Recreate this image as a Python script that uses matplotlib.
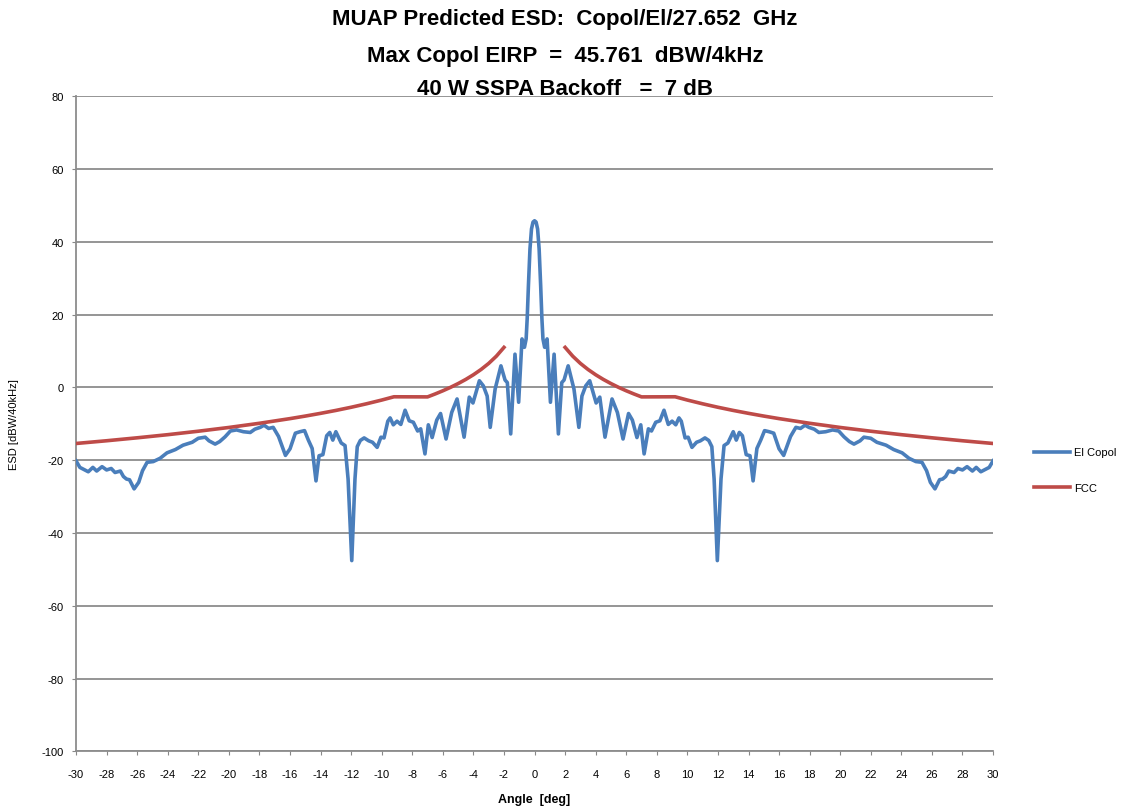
import numpy as np
import matplotlib
matplotlib.use('Agg')
import matplotlib.pyplot as plt

plt.rcParams['font.family'] = ['Liberation Sans Narrow', 'Liberation Sans', 'DejaVu Sans']
plt.rcParams['axes.unicode_minus'] = False

# Data
angle = [-30.0, -29.75, -29.2, -28.9, -28.65, -28.3, -28.0, -27.7, -27.45, -27.1,
         -26.9, -26.7, -26.5, -26.2, -25.9, -25.65, -25.35, -24.95, -24.5, -24.05,
         -23.5, -23.0, -22.4, -22.0, -21.55, -21.3, -20.9, -20.6, -20.25, -19.9,
         -19.5, -19.05, -18.6, -18.3, -17.95, -17.7, -17.4, -17.1, -16.75, -16.3,
         -16.0, -15.65, -15.35, -15.05, -14.8, -14.55, -14.3, -14.1, -13.85, -13.6,
         -13.4, -13.2, -13.0, -12.65, -12.4, -12.2, -11.96, -11.75, -11.6, -11.4,
         -11.15, -10.85, -10.6, -10.3, -10.05, -9.85, -9.6, -9.45, -9.24, -9.0,
         -8.75, -8.47, -8.2, -7.93, -7.65, -7.45, -7.17, -6.95, -6.7, -6.4,
         -6.15, -5.79, -5.42, -5.07, -4.61, -4.27, -4.03, -3.61, -3.35, -3.1,
         -2.9, -2.58, -2.2, -1.93, -1.78, -1.56, -1.28, -1.04, -0.82, -0.66,
         -0.55, -0.48, -0.4, -0.3, -0.2, -0.1, 0.0,
         0.1, 0.2, 0.3, 0.4, 0.48, 0.55, 0.66, 0.82, 1.04, 1.28,
         1.56, 1.78, 1.93, 2.2, 2.58, 2.9, 3.1, 3.35, 3.61, 4.03,
         4.27, 4.61, 5.07, 5.42, 5.79, 6.15, 6.4, 6.7, 6.95, 7.17,
         7.45, 7.65, 7.93, 8.2, 8.47, 8.75, 9.0, 9.24, 9.45, 9.6,
         9.85, 10.05, 10.3, 10.6, 10.85, 11.15, 11.4, 11.6, 11.75, 11.96,
         12.2, 12.4, 12.65, 13.0, 13.2, 13.4, 13.6, 13.85, 14.1, 14.3,
         14.55, 14.8, 15.05, 15.35, 15.65, 16.0, 16.3, 16.75, 17.1, 17.4,
         17.7, 17.95, 18.3, 18.6, 19.05, 19.5, 19.9, 20.25, 20.6, 20.9,
         21.3, 21.55, 22.0, 22.4, 23.0, 23.5, 24.05, 24.5, 24.95, 25.35,
         25.65, 25.9, 26.2, 26.5, 26.7, 26.9, 27.1, 27.45, 27.7, 28.0,
         28.3, 28.65, 28.9, 29.2, 29.75, 30.0]

el_copol = [-20.2, -22.0, -23.2, -22.0, -23.0, -21.8, -22.7, -22.3, -23.4, -23.0,
            -24.5, -25.2, -25.4, -27.9, -26.1, -22.9, -20.6, -20.4, -19.5, -18.0,
            -17.1, -15.9, -15.1, -14.0, -13.7, -14.7, -15.6, -14.9, -13.6, -12.0,
            -11.7, -12.2, -12.4, -11.5, -11.0, -10.4, -11.3, -11.0, -13.5, -18.7,
            -16.9, -12.6, -12.2, -11.9, -14.5, -16.8, -25.7, -18.8, -18.5, -13.3,
            -12.4, -14.5, -12.2, -15.3, -16.0, -25.2, -47.6, -25.2, -16.3, -14.6,
            -13.9, -14.7, -15.1, -16.5, -13.7, -13.9, -9.3, -8.4, -10.3, -9.3,
            -10.2, -6.3, -9.2, -9.6, -12.0, -11.4, -18.3, -10.3, -13.8, -9.0,
            -7.2, -14.2, -6.9, -3.2, -13.7, -2.7, -4.3, 1.8, 0.4, -2.4,
            -11.0, -0.5, 5.9, 2.0, 1.3, -12.8, 9.1, -4.1, 13.3, 11.0,
            13.3, 19.0, 28.0, 38.0, 43.5, 45.4, 45.76,
            45.4, 43.5, 38.0, 28.0, 19.0, 13.3, 11.0, 13.3, -4.1, 9.1,
            -12.8, 1.3, 2.0, 5.9, -0.5, -11.0, -2.4, 0.4, 1.8, -4.3,
            -2.7, -13.7, -3.2, -6.9, -14.2, -7.2, -9.0, -13.8, -10.3, -18.3,
            -11.4, -12.0, -9.6, -9.2, -6.3, -10.2, -9.3, -10.3, -8.4, -9.3,
            -13.9, -13.7, -16.5, -15.1, -14.7, -13.9, -14.6, -16.3, -25.2, -47.6,
            -25.2, -16.0, -15.3, -12.2, -14.5, -12.4, -13.3, -18.5, -18.8, -25.7,
            -16.8, -14.5, -11.9, -12.2, -12.6, -16.9, -18.7, -13.5, -11.0, -11.3,
            -10.4, -11.0, -11.5, -12.4, -12.2, -11.7, -12.0, -13.6, -14.9, -15.6,
            -14.7, -13.7, -14.0, -15.1, -15.9, -17.1, -18.0, -19.5, -20.4, -20.6,
            -22.9, -26.1, -27.9, -25.4, -25.2, -24.5, -23.0, -23.4, -22.3, -22.7,
            -21.8, -23.0, -22.0, -23.2, -22.0, -20.2]

fcc_angle = [-30, -28, -26, -24, -22, -20, -18, -16, -15, -14, -13, -12, -11, -10, -9.2,
             -7, -6.5, -6, -5.5, -5, -4.5, -4, -3.5, -3, -2.5, -2,
             np.nan,
             2, 2.5, 3, 3.5, 4, 4.5, 5, 5.5, 6, 6.5, 7,
             9.2, 10, 11, 12, 13, 14, 15, 16, 18, 20, 22, 24, 26, 28, 30]
fcc = [-15.43, -14.68, -13.87, -13.01, -12.06, -11.03, -9.88, -8.60, -7.90, -7.15, -6.35,
       -5.48, -4.53, -3.5, -2.6, -2.63, -1.82, -0.95, -0.01, 1.03, 2.17, 3.45, 4.90,
       6.57, 8.55, 10.97,
       np.nan,
       10.97, 8.55, 6.57, 4.90, 3.45, 2.17, 1.03, -0.01, -0.95, -1.82, -2.63,
       -2.6, -3.5, -4.53, -5.48, -6.35, -7.15, -7.90, -8.60, -9.88, -11.03, -12.06,
       -13.01, -13.87, -14.68, -15.43]

xticks = list(range(-30, 31, 2))
yticks = list(range(-100, 81, 20))

fig = plt.figure(figsize=(11.3, 8.12), dpi=100)
ax = fig.add_axes([0.0673, 0.0735, 0.8115, 0.8069])

ax.plot(angle, el_copol, color='#4A7EBB', lw=2.6, label='El Copol', zorder=3)
ax.plot(fcc_angle, fcc, color='#BE4B48', lw=2.6, label='FCC', zorder=3)

ax.set_xlim(-30, 30)
ax.set_ylim(-100, 80)
ax.set_xticks(xticks)
ax.set_yticks(yticks)
ax.tick_params(labelsize=8, colors='#888888', length=3, labelcolor='black')
ax.tick_params(axis='x', pad=10)
ax.tick_params(axis='y', pad=6)
ax.yaxis.grid(True, color='#8C8C8C', lw=1.3)
ax.set_axisbelow(True)
for s in ['top', 'right']:
    ax.spines[s].set_visible(False)
for s in ['left', 'bottom']:
    ax.spines[s].set_color('#8C8C8C')
    ax.spines[s].set_linewidth(1.3)

ax.set_xlabel('Angle  [deg]', fontsize=9, fontweight='bold', labelpad=10)
ax.set_ylabel('ESD [dBW/40kHz]', fontsize=8, labelpad=16)

fig.text(0.5, 0.976, 'MUAP Predicted ESD:  Copol/El/27.652  GHz', ha='center', va='center',
         fontsize=16, fontweight='bold')
fig.text(0.5, 0.931, 'Max Copol EIRP  =  45.761  dBW/4kHz', ha='center', va='center',
         fontsize=16, fontweight='bold')
fig.text(0.5, 0.890, '40 W SSPA Backoff   =  7 dB', ha='center', va='center',
         fontsize=16, fontweight='bold')

fig.legend(loc='upper left', bbox_to_anchor=(0.906, 0.460), frameon=False, fontsize=8,
           handlelength=3.3, handletextpad=0.3, labelspacing=2.3)

fig.savefig('out.png', dpi=100)
